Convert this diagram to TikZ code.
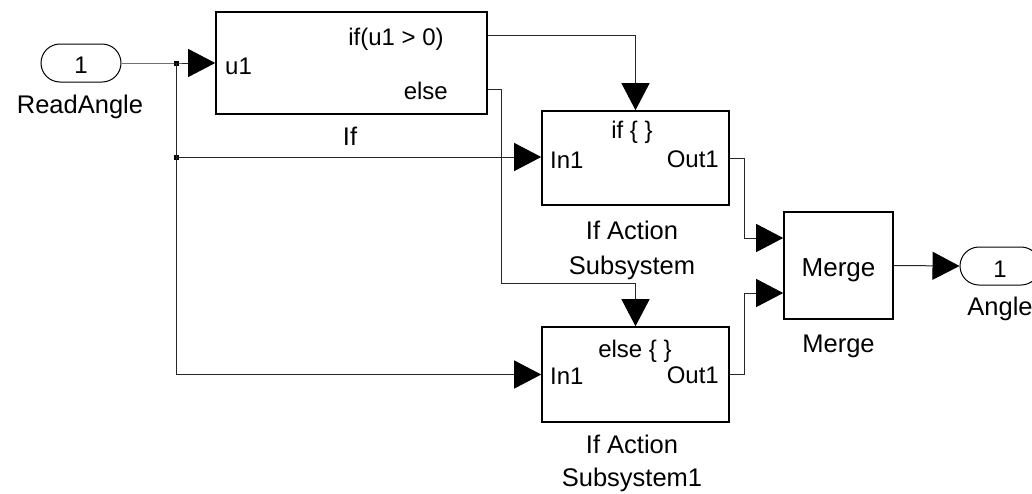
\documentclass[tikz,border=0pt]{standalone}
\usepackage{fontspec}
\setmainfont{Liberation Sans}
\usetikzlibrary{arrows.meta,shapes.misc,calc}
\begin{document}
\begin{tikzpicture}[x=1pt,y=-1pt,
  blk/.style={draw=black,line width=1.6pt,fill=white,inner sep=0pt},
  pill/.style={draw=black,line width=1pt,rounded rectangle,minimum width=80pt,minimum height=38pt,inner sep=0pt},
  conn/.style={draw=black!85,line width=1pt},
  arr/.style={conn,-{Triangle[length=27pt,width=28pt,color=black]}},
  dot/.style={fill=black,rectangle,minimum size=5pt,inner sep=0pt},
  lbl/.style={anchor=base,inner sep=0pt,font=\fontsize{25.5}{30}\selectfont},
  prt/.style={inner sep=0pt,font=\fontsize{24}{28}\selectfont},
]
\useasboundingbox (0,0) rectangle (1032,493);
\clip (0,0) rectangle (1032,493);

% blocks
\node[pill] (rin) at (81,63) {};
\node[blk,minimum width=271pt,minimum height=102pt] (ifb) at (351.5,63) {};
\node[blk,minimum width=187pt,minimum height=94pt] (s1) at (635.5,158) {};
\node[blk,minimum width=187pt,minimum height=95pt] (s2) at (635.5,374.5) {};
\node[blk,minimum width=109pt,minimum height=107pt] (mg) at (838.5,265.5) {};
\node[pill] (aout) at (1000,266) {};

% texts
\node[prt,anchor=base] (rin1) at (81,73) {1};
\node[lbl] (rinl) at (80,113) {ReadAngle};
\node[prt,anchor=base] (ifc) at (396,45) {if(u1 > 0)};
\node[prt,anchor=base east] (ife) at (448,99) {else};
\node[prt,anchor=base west] (ifu) at (225,74) {u1};
\node[lbl] (ifl) at (350,145) {If};
\node[prt,anchor=base] (s1t) at (632,138) {if \{ \}};
\node[prt,anchor=base west] (s1i) at (550,168) {In1};
\node[prt,anchor=base east] (s1o) at (719,167) {Out1};
\node[lbl] (s1l1) at (632,239) {If Action};
\node[lbl] (s1l2) at (632,274) {Subsystem};
\node[prt,anchor=base] (s2t) at (635,357) {else \{ \}};
\node[prt,anchor=base west] (s2i) at (550,384) {In1};
\node[prt,anchor=base east] (s2o) at (719,383) {Out1};
\node[lbl] (s2l1) at (632,453) {If Action};
\node[lbl] (s2l2) at (632,486) {Subsystem1};
\node[anchor=base,inner sep=0pt,font=\fontsize{26}{30}\selectfont] (mgt) at (838.5,276) {Merge};
\node[lbl] (mgl) at (838.5,352) {Merge};
\node[prt,anchor=base] (aout1) at (1000,277) {1};
\node[lbl] (aoutl) at (1000,315) {Angle};

% junctions
\node[dot] (j1) at (176,63) {};
\node[dot] (j2) at (176,157) {};

% connectors
\draw[arr] (rin.east) -- (j1.center) -- (ifb.west);
\draw[arr] (j1.center) |- (s2.west);
\draw[arr] (j2.center) -- (j2.center -| s1.west);
\draw[arr] ([yshift=28pt]ifb.east) -| (s1.north);
\draw[arr] ([yshift=-26pt]ifb.east) -- ++(14,0) |- ([yshift=43pt]s2.north) -- (s2.north);
\draw[arr] (s1.east) -- ++(15,0) |- ([yshift=27.5pt]mg.west);
\draw[arr] (s2.east) -- ++(15,0) |- ([yshift=-27.5pt]mg.west);
\draw[arr] (mg.east) -- (aout.west);
\end{tikzpicture}
\end{document}
